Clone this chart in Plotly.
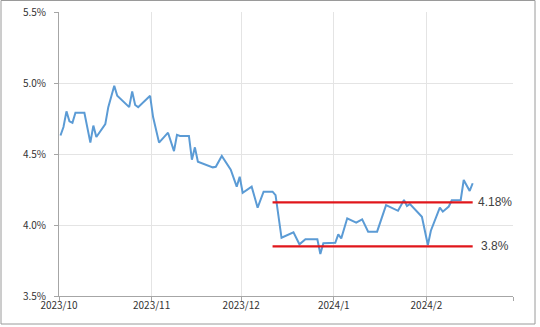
import plotly.graph_objects as go

# ---- data ----
dates = [
    "2023-10-01", "2023-10-02", "2023-10-03", "2023-10-04", "2023-10-05", "2023-10-06",
    "2023-10-09", "2023-10-11", "2023-10-12", "2023-10-13", "2023-10-16", "2023-10-17",
    "2023-10-19", "2023-10-20", "2023-10-24", "2023-10-25", "2023-10-26", "2023-10-27",
    "2023-10-31", "2023-11-01", "2023-11-03", "2023-11-06", "2023-11-08", "2023-11-09",
    "2023-11-10", "2023-11-13", "2023-11-14", "2023-11-15", "2023-11-16", "2023-11-21",
    "2023-11-22", "2023-11-24", "2023-11-27", "2023-11-29", "2023-11-30", "2023-12-01",
    "2023-12-04", "2023-12-06", "2023-12-08", "2023-12-11", "2023-12-12", "2023-12-14",
    "2023-12-18", "2023-12-20", "2023-12-22", "2023-12-26", "2023-12-27", "2023-12-28",
    "2024-01-01", "2024-01-02", "2024-01-03", "2024-01-05", "2024-01-08", "2024-01-10",
    "2024-01-12", "2024-01-15", "2024-01-18", "2024-01-22", "2024-01-24", "2024-01-25",
    "2024-01-26", "2024-01-30", "2024-02-01", "2024-02-02", "2024-02-05", "2024-02-06",
    "2024-02-08", "2024-02-09", "2024-02-12", "2024-02-13", "2024-02-15", "2024-02-16",
]
yields = [
    4.63, 4.69, 4.80, 4.73, 4.72, 4.79,
    4.79, 4.58, 4.70, 4.62, 4.71, 4.83,
    4.98, 4.91, 4.83, 4.94, 4.845, 4.83,
    4.91, 4.76, 4.58, 4.65, 4.52, 4.635,
    4.627, 4.627, 4.46, 4.547, 4.446, 4.406,
    4.41, 4.486, 4.39, 4.27, 4.34, 4.227,
    4.27, 4.122, 4.235, 4.235, 4.21, 3.91,
    3.948, 3.864, 3.899, 3.899, 3.796, 3.871,
    3.875, 3.934, 3.906, 4.047, 4.016, 4.04,
    3.953, 3.953, 4.14, 4.10, 4.176, 4.134,
    4.148, 4.058, 3.859, 3.96, 4.122, 4.094,
    4.13, 4.174, 4.176, 4.317, 4.24, 4.294,
]

band_start = "2023-12-11"
band_end = "2024-02-16"
band_levels = [4.16, 3.85]
band_labels = ["4.18%", "3.8%"]

y_tickvals = [3.5, 4.0, 4.5, 5.0, 5.5]
y_ticktext = ["3.5%", "4.0%", "4.5%", "5.0%", "5.5%"]
x_tickvals = ["2023-10-01", "2023-11-01", "2023-12-01", "2024-01-01", "2024-02-01", "2024-03-01"]
x_ticktext = ["2023/10", "2023/11", "2023/12", "2024/1", "2024/2", ""]

DAY_MS = 86400000

fig = go.Figure()
fig.add_trace(go.Scatter(
    x=dates, y=yields, mode="lines",
    line=dict(color="#5b9bd5", width=2),
    xperiod=DAY_MS, xperiodalignment="middle",
    showlegend=False, hoverinfo="skip",
))
for lvl, lab in zip(band_levels, band_labels):
    fig.add_trace(go.Scatter(
        x=[band_start, band_end], y=[lvl, lvl], mode="lines",
        line=dict(color="#e0161b", width=2.2),
        xperiod=DAY_MS, xperiodalignment="middle",
        showlegend=False, hoverinfo="skip",
    ))
    fig.add_annotation(
        x=band_end, y=lvl, xref="x", yref="y", text=lab, showarrow=False,
        xanchor="center", yanchor="middle", xshift=24,
        font=dict(family="Liberation Sans, Arial", size=12, color="#404040"),
    )

tick_font = dict(family="Noto Sans CJK JP, sans-serif", size=10, color="#333333")

fig.update_xaxes(
    type="date", range=["2023-10-01", "2024-03-01"],
    tickmode="array", tickvals=x_tickvals, ticktext=x_ticktext,
    showgrid=True, gridcolor="#e4e4e4", gridwidth=1,
    showline=True, linecolor="#a6a6a6", linewidth=1,
    ticks="outside", ticklen=4, tickcolor="#a6a6a6",
    tickfont=tick_font, zeroline=False, automargin=False,
    ticklabelstandoff=-4,
)
fig.update_yaxes(
    range=[3.5, 5.5],
    tickmode="array", tickvals=y_tickvals, ticktext=y_ticktext,
    showgrid=True, gridcolor="#e4e4e4", gridwidth=1,
    showline=True, linecolor="#a6a6a6", linewidth=1,
    ticks="outside", ticklen=4, tickcolor="#a6a6a6",
    tickfont=tick_font, zeroline=False, ticklabelstandoff=6, automargin=False,
)

# outer frame of the chart
fig.add_shape(type="rect", xref="paper", yref="paper",
              x0=(1 - 59) / 454, x1=(535 - 59) / 454,
              y0=(296 - 324) / 284, y1=(296 - 0.5) / 284,
              line=dict(color="#9a9a9a", width=1), fillcolor="rgba(0,0,0,0)", layer="below")

fig.update_layout(
    width=540, height=327,
    margin=dict(l=59, r=27, t=12, b=31, autoexpand=False),
    paper_bgcolor="white", plot_bgcolor="white",
    showlegend=False,
)

fig.write_html("out.html")
